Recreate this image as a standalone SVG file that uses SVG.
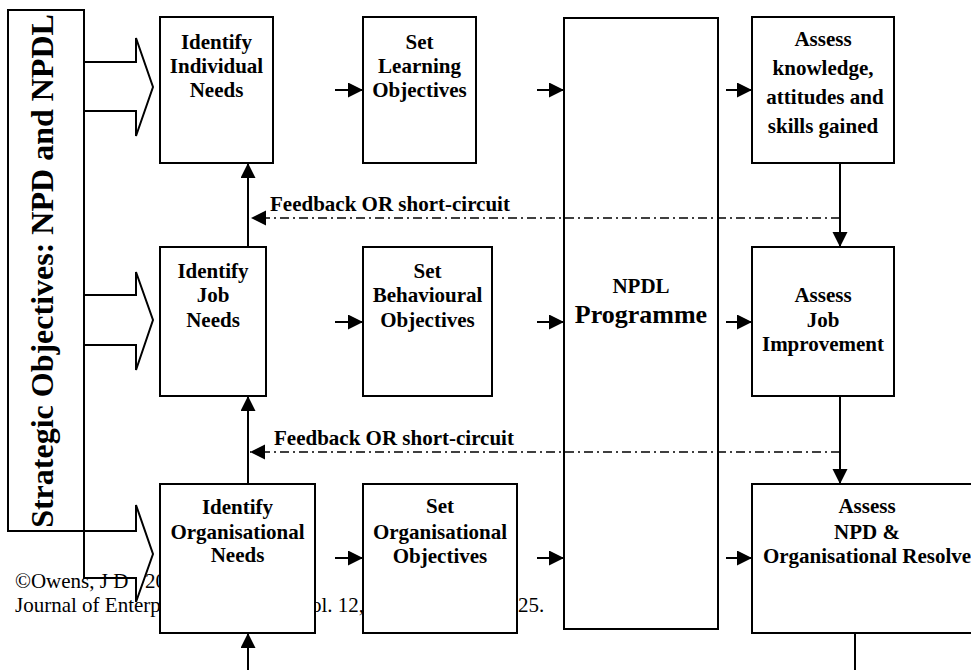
<svg xmlns="http://www.w3.org/2000/svg" width="971" height="670" viewBox="0 0 971 670">
<style>
.box{fill:#fff;stroke:#000;stroke-width:2}
.t{font-family:"Liberation Serif","Times New Roman",serif;font-weight:bold;font-size:21px;fill:#000;text-anchor:middle}
.cite{font-family:"Liberation Serif","Times New Roman",serif;font-size:21px;fill:#000}
.ln{stroke:#000;stroke-width:2;fill:none}
.dd{stroke:#000;stroke-width:1.6;fill:none;stroke-dasharray:9,4,2,4}
.blk{fill:none;stroke:#000;stroke-width:2}
</style>
<defs>
<marker id="ah" markerUnits="userSpaceOnUse" markerWidth="16" markerHeight="16" refX="15" refY="7.5" orient="auto">
<path d="M0,0 L15,7.5 L0,15 z" fill="#000"/>
</marker>
</defs>
<rect width="971" height="670" fill="#fff"/>

<g id="citation">
<text class="cite" y="588"><tspan x="15">©Owens, J D</tspan><tspan x="145">20</tspan></text>
<text class="cite" y="612"><tspan x="15">Journal of Enterp</tspan><tspan x="311">ol. 12,</tspan><tspan x="518">25.</tspan></text>
</g>

<g id="strategic">
<rect class="box" x="8" y="10" width="76" height="521"/>
<text class="t" style="font-size:32px" transform="translate(53,271) rotate(-90)" x="0" y="0">Strategic Objectives: NPD and NPDL</text>
</g>

<g id="block-arrows">
<path class="blk" d="M84,62 H136 V38 L153,87 L136,136 V111 H84"/>
<path class="blk" d="M84,295 H136 V272 L153,320 L136,370 V345 H84"/>
<path class="blk" d="M84,531 H136 V505 L153,554 L136,602 V578 H84 Z"/>
</g>

<g id="programme">
<rect class="box" x="564" y="18" width="154" height="611"/>
<text class="t" x="641" y="293">NPDL</text>
<text class="t" style="font-size:26px" x="641" y="323">Programme</text>
</g>

<g id="connectors">
<line class="ln" x1="335" y1="90" x2="363" y2="90" marker-end="url(#ah)"/>
<line class="ln" x1="537" y1="90" x2="564" y2="90" marker-end="url(#ah)"/>
<line class="ln" x1="726" y1="90" x2="752" y2="90" marker-end="url(#ah)"/>
<line class="ln" x1="335" y1="322" x2="363" y2="322" marker-end="url(#ah)"/>
<line class="ln" x1="537" y1="322" x2="564" y2="322" marker-end="url(#ah)"/>
<line class="ln" x1="726" y1="322" x2="752" y2="322" marker-end="url(#ah)"/>
<line class="ln" x1="335" y1="558" x2="363" y2="558" marker-end="url(#ah)"/>
<line class="ln" x1="537" y1="558" x2="564" y2="558" marker-end="url(#ah)"/>
<line class="ln" x1="726" y1="558" x2="752" y2="558" marker-end="url(#ah)"/>
<line class="ln" x1="248" y1="247" x2="248" y2="163" marker-end="url(#ah)"/>
<line class="ln" x1="248" y1="484" x2="248" y2="396" marker-end="url(#ah)"/>
<line class="ln" x1="248" y1="670" x2="248" y2="633" marker-end="url(#ah)"/>
<line class="ln" x1="840" y1="163" x2="840" y2="247" marker-end="url(#ah)"/>
<line class="ln" x1="840" y1="396" x2="840" y2="484" marker-end="url(#ah)"/>
<line class="ln" x1="855" y1="633" x2="855" y2="670"/>
<line class="dd" x1="840" y1="218" x2="251" y2="218" marker-end="url(#ah)"/>
<line class="dd" x1="840" y1="452" x2="250" y2="452" marker-end="url(#ah)"/>
<text class="t" style="text-anchor:start" x="270" y="211">Feedback OR short-circuit</text>
<text class="t" style="text-anchor:start" x="274" y="445">Feedback OR short-circuit</text>
</g>

<g id="identify-individual">
<rect class="box" x="160" y="17" width="113" height="146"/>
<text class="t" x="216.5" y="49">Identify</text>
<text class="t" x="216.5" y="73">Individual</text>
<text class="t" x="216.5" y="97">Needs</text>
</g>
<g id="set-learning">
<rect class="box" x="363" y="17" width="113" height="146"/>
<text class="t" x="419.5" y="49">Set</text>
<text class="t" x="419.5" y="73">Learning</text>
<text class="t" x="419.5" y="97">Objectives</text>
</g>
<g id="assess-knowledge">
<rect class="box" x="752" y="17" width="142" height="146"/>
<text class="t" x="823" y="46">Assess</text>
<text class="t" x="823" y="75">knowledge,</text>
<text class="t" x="825" y="104">attitudes and</text>
<text class="t" x="823" y="133">skills gained</text>
</g>

<g id="identify-job">
<rect class="box" x="160" y="247" width="106" height="149"/>
<text class="t" x="213" y="278">Identify</text>
<text class="t" x="213" y="302">Job</text>
<text class="t" x="213" y="327">Needs</text>
</g>
<g id="set-behavioural">
<rect class="box" x="363" y="247" width="129" height="149"/>
<text class="t" x="427.5" y="278">Set</text>
<text class="t" x="427.5" y="302">Behavioural</text>
<text class="t" x="427.5" y="327">Objectives</text>
</g>
<g id="assess-job">
<rect class="box" x="752" y="247" width="142" height="149"/>
<text class="t" x="823" y="302">Assess</text>
<text class="t" x="823" y="327">Job</text>
<text class="t" x="823" y="351">Improvement</text>
</g>

<g id="identify-org">
<rect class="box" x="160" y="484" width="155" height="149"/>
<text class="t" x="237.5" y="514">Identify</text>
<text class="t" x="237.5" y="539">Organisational</text>
<text class="t" x="237.5" y="562">Needs</text>
</g>
<g id="set-org">
<rect class="box" x="363" y="484" width="154" height="149"/>
<text class="t" x="440" y="513">Set</text>
<text class="t" x="440" y="539">Organisational</text>
<text class="t" x="440" y="563">Objectives</text>
</g>
<g id="assess-npd">
<rect class="box" x="752" y="484" width="232" height="149"/>
<text class="t" x="867" y="513">Assess</text>
<text class="t" x="867" y="539">NPD &amp;</text>
<text class="t" x="867" y="563">Organisational Resolve</text>
</g>
</svg>
